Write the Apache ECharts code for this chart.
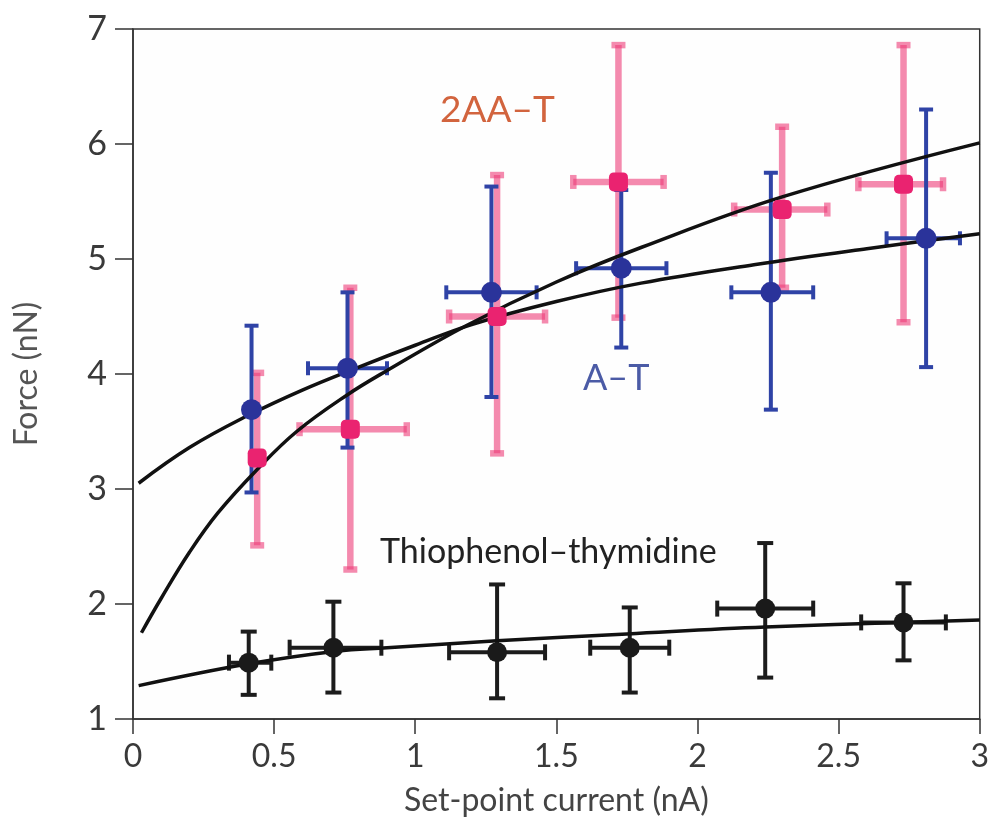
<!DOCTYPE html>
<html>
<head>
<meta charset="utf-8">
<script src="https://cdn.jsdelivr.net/npm/echarts@6/dist/echarts.min.js"></script>
<style>
  html, body { margin: 0; padding: 0; background: #fff; }
  #chart { width: 992px; height: 830px; }
</style>
</head>
<body>
<div id="chart"></div>
<script>
// A–T: points with x/y error ranges
const atX = [0.42, 0.76, 1.27, 1.73, 2.26, 2.81]
const atY = [3.69, 4.05, 4.71, 4.92, 4.71, 5.18]
const atXLow = [0.40, 0.62, 1.11, 1.57, 2.12, 2.67]
const atXHigh = [0.44, 0.90, 1.43, 1.89, 2.41, 2.93]
const atYLow = [2.97, 3.36, 3.80, 4.23, 3.69, 4.06]
const atYHigh = [4.42, 4.71, 5.63, 5.60, 5.75, 6.30]

// 2AA–T
const aaX = [0.44, 0.77, 1.29, 1.72, 2.30, 2.73]
const aaY = [3.27, 3.52, 4.50, 5.67, 5.43, 5.65]
const aaXLow = [0.42, 0.59, 1.12, 1.56, 2.13, 2.57]
const aaXHigh = [0.46, 0.97, 1.46, 1.88, 2.46, 2.87]
const aaYLow = [2.51, 2.30, 3.31, 4.49, 4.75, 4.45]
const aaYHigh = [4.01, 4.75, 5.73, 6.86, 6.15, 6.86]

// Thiophenol–thymidine
const thX = [0.41, 0.71, 1.29, 1.76, 2.24, 2.73]
const thY = [1.49, 1.62, 1.58, 1.62, 1.96, 1.84]
const thXLow = [0.34, 0.555, 1.12, 1.62, 2.07, 2.58]
const thXHigh = [0.49, 0.88, 1.46, 1.90, 2.41, 2.88]
const thYLow = [1.21, 1.23, 1.18, 1.23, 1.36, 1.51]
const thYHigh = [1.76, 2.02, 2.17, 1.97, 2.53, 2.18]

// fitted curves
const fitAT = [[0.02, 3.05], [0.2, 3.36], [0.4, 3.63], [0.6, 3.86], [0.8, 4.06], [1.0, 4.25],
  [1.2, 4.43], [1.5, 4.63], [1.8, 4.79], [2.2, 4.95], [2.6, 5.09], [3.0, 5.22]]
const fitAA = [[0.03, 1.75], [0.1, 2.05], [0.2, 2.45], [0.3, 2.79], [0.44, 3.17], [0.58, 3.50],
  [0.76, 3.82], [0.9, 4.03], [1.18, 4.42], [1.5, 4.80], [1.8, 5.10], [2.3, 5.54], [3.0, 6.01]]
const fitTh = [[0.02, 1.29], [0.41, 1.48], [0.72, 1.59], [0.9, 1.62], [1.29, 1.68], [1.75, 1.74],
  [2.24, 1.80], [3.0, 1.86]]

const font = 'Lato'

function rows(x, y, xl, xh, yl, yh) {
  return x.map((v, i) => [v, y[i], xl[i], xh[i], yl[i], yh[i]])
}

function errorBars(color, width, cap) {
  return function (params, api) {
    const c = api.coord([api.value(0), api.value(1)])
    const l = api.coord([api.value(2), api.value(1)])
    const r = api.coord([api.value(3), api.value(1)])
    const lo = api.coord([api.value(0), api.value(4)])
    const hi = api.coord([api.value(0), api.value(5)])
    const style = { stroke: color, lineWidth: width }
    const seg = (x1, y1, x2, y2) => ({ type: 'line', shape: { x1, y1, x2, y2 }, style })
    const children = [
      seg(c[0], hi[1], c[0], lo[1]),
      seg(c[0] - cap, hi[1], c[0] + cap, hi[1]),
      seg(c[0] - cap, lo[1], c[0] + cap, lo[1]),
    ]
    if (r[0] - l[0] > 14) {
      children.push(
        seg(l[0], c[1], r[0], c[1]),
        seg(l[0], c[1] - cap, l[0], c[1] + cap),
        seg(r[0], c[1] - cap, r[0], c[1] + cap)
      )
    }
    return { type: 'group', children }
  }
}

function barSeries(data, color, width, cap, z) {
  return {
    type: 'custom',
    renderItem: errorBars(color, width, cap),
    encode: { x: 0, y: 1 },
    data: data,
    z: z,
    silent: true,
  }
}

function lineSeries(data) {
  return {
    type: 'line',
    data: data,
    smooth: 0.4,
    showSymbol: false,
    lineStyle: { color: '#111', width: 3.5 },
    z: 5,
    silent: true,
  }
}

const chart = echarts.init(document.getElementById('chart'))
chart.setOption({
  animation: false,
  grid: {
    left: 133,
    right: 10,
    top: 29,
    bottom: 111,
    show: true,
    backgroundColor: '#fefefe',
    borderColor: '#333',
    borderWidth: 1.5,
  },
  xAxis: {
    type: 'value',
    min: 0,
    max: 3,
    interval: 0.5,
    name: 'Set-point current (nA)',
    nameLocation: 'middle',
    nameGap: 66,
    nameTextStyle: { fontSize: 32, color: '#444', fontFamily: font },
    axisLine: { lineStyle: { color: '#333', width: 1.5 } },
    axisTick: { length: 15, lineStyle: { color: '#333', width: 1.5 } },
    axisLabel: { fontSize: 32, color: '#3a3a3a', margin: 22, fontFamily: font },
    splitLine: { show: false },
  },
  yAxis: {
    type: 'value',
    min: 1,
    max: 7,
    interval: 1,
    name: 'Force (nN)',
    nameLocation: 'middle',
    nameGap: 90,
    nameTextStyle: { fontSize: 32, color: '#555', fontFamily: font },
    axisLine: { lineStyle: { color: '#333', width: 1.5 } },
    axisTick: { length: 18, lineStyle: { color: '#333', width: 1.5 } },
    axisLabel: { fontSize: 34, color: '#3a3a3a', margin: 26, fontFamily: font },
    splitLine: { show: false },
  },
  series: [
    barSeries(rows(aaX, aaY, aaXLow, aaXHigh, aaYLow, aaYHigh), 'rgba(236,60,120,0.6)', 6.5, 7, 2),
    barSeries(rows(atX, atY, atXLow, atXHigh, atYLow, atYHigh), '#2f43a6', 4, 7, 3),
    barSeries(rows(thX, thY, thXLow, thXHigh, thYLow, thYHigh), '#1c1c1c', 4, 8, 3),
    lineSeries(fitAT),
    lineSeries(fitAA),
    lineSeries(fitTh),
    {
      type: 'scatter',
      data: aaX.map((v, i) => [v, aaY[i]]),
      symbol: 'roundRect',
      symbolSize: 19,
      itemStyle: { color: '#ea2370', opacity: 1 },
      z: 6,
    },
    {
      type: 'scatter',
      data: atX.map((v, i) => [v, atY[i]]),
      symbol: 'circle',
      symbolSize: 21,
      itemStyle: { color: '#2a339a', opacity: 1 },
      z: 7,
    },
    {
      type: 'scatter',
      data: thX.map((v, i) => [v, thY[i]]),
      symbol: 'circle',
      symbolSize: 20,
      itemStyle: { color: '#1a1a1a', opacity: 1 },
      z: 7,
    },
  ],
  graphic: [
    { type: 'text', left: 440, top: 92, style: { text: '2AA–T', fontSize: 37, fill: '#d2643e', fontFamily: font } },
    { type: 'text', left: 583, top: 360, style: { text: 'A–T', fontSize: 36, fill: '#4b5ba6', fontFamily: font } },
    { type: 'text', left: 380, top: 535, style: { text: 'Thiophenol–thymidine', fontSize: 34, fill: '#222', fontFamily: font } },
  ],
})
</script>
</body>
</html>
